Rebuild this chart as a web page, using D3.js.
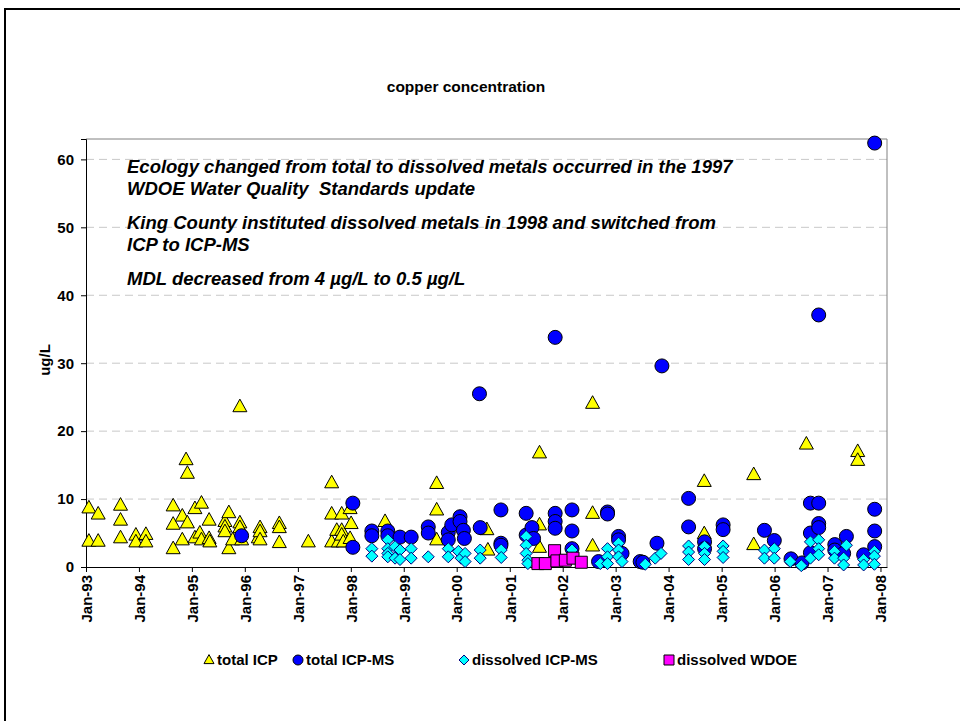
<!DOCTYPE html>
<html>
<head>
<meta charset="utf-8">
<script src="https://cdn.jsdelivr.net/npm/d3@7"></script>
<style>
  body { margin: 0; background: #fff; }
  text { font-family: "Liberation Sans", Arial, sans-serif; }
</style>
</head>
<body>
<div id="chart"></div>
<script>
// values: [sample date, ug/L]
var totalICP = [
  ["1993-01-21", 8.7], ["1993-01-21", 3.8], ["1993-03-26", 7.8], ["1993-03-26", 3.8],
  ["1993-08-27", 9.1], ["1993-08-27", 6.9], ["1993-08-27", 4.3], ["1993-12-11", 4.7],
  ["1993-12-11", 3.7], ["1994-02-18", 4.8], ["1994-02-18", 3.7], ["1994-08-25", 9.0],
  ["1994-08-25", 6.3], ["1994-08-25", 2.7], ["1994-10-27", 7.5], ["1994-10-27", 4.0],
  ["1994-11-22", 15.8], ["1994-12-01", 13.8], ["1994-12-01", 6.5], ["1995-01-22", 8.6],
  ["1995-01-22", 4.3], ["1995-02-25", 5.0], ["1995-03-08", 9.4], ["1995-03-08", 4.0],
  ["1995-04-30", 6.9], ["1995-04-30", 4.2], ["1995-05-05", 3.7], ["1995-08-17", 6.7],
  ["1995-08-17", 5.9], ["1995-08-17", 5.2], ["1995-09-13", 8.0], ["1995-09-13", 2.7],
  ["1995-10-09", 4.0], ["1995-11-28", 23.6], ["1995-11-28", 6.5], ["1995-11-28", 5.8],
  ["1995-12-10", 4.0], ["1996-04-03", 4.3], ["1996-04-15", 5.8], ["1996-04-15", 5.2],
  ["1996-04-15", 4.0], ["1996-08-26", 6.4], ["1996-08-26", 5.8], ["1996-08-26", 3.6],
  ["1997-03-14", 3.7], ["1997-08-22", 12.4], ["1997-08-22", 7.8], ["1997-08-22", 3.7],
  ["1997-09-26", 5.4], ["1997-10-07", 3.7], ["1997-10-30", 7.8], ["1997-10-30", 5.4],
  ["1997-10-30", 4.7], ["1997-11-10", 3.7], ["1997-12-27", 8.6], ["1997-12-27", 4.2],
  ["1998-01-03", 6.4], ["1998-08-25", 6.7], ["1999-08-16", 12.3], ["1999-08-16", 8.4],
  ["1999-08-16", 4.0], ["2000-07-27", 5.5], ["2000-08-03", 2.5], ["2001-07-25", 16.8],
  ["2001-07-25", 6.2], ["2001-07-25", 2.9], ["2002-07-26", 24.1], ["2002-07-26", 7.9],
  ["2002-07-26", 3.1], ["2004-09-03", 12.6], ["2004-09-03", 4.9], ["2005-08-10", 13.6],
  ["2005-08-10", 3.3], ["2006-08-08", 18.1], ["2007-07-28", 17.0], ["2007-07-28", 15.7]
];
var totalICPMS = [
  ["1995-12-10", 4.6], ["1998-01-15", 9.4], ["1998-01-15", 2.9], ["1998-05-26", 5.3],
  ["1998-05-26", 4.6], ["1998-09-13", 5.3], ["1998-09-13", 4.6], ["1998-12-06", 4.4],
  ["1999-02-21", 4.4], ["1999-06-19", 5.9], ["1999-06-19", 5.0], ["1999-11-04", 5.1],
  ["1999-11-04", 4.0], ["1999-11-28", 6.2], ["2000-01-24", 7.4], ["2000-01-24", 6.7],
  ["2000-02-16", 5.4], ["2000-02-23", 4.2], ["2000-06-06", 25.5], ["2000-06-11", 5.8],
  ["2000-11-01", 8.4], ["2000-11-01", 3.5], ["2000-11-01", 3.2], ["2001-04-24", 7.9],
  ["2001-04-24", 4.7], ["2001-06-03", 5.8], ["2001-06-14", 4.2], ["2001-11-10", 33.8],
  ["2001-11-10", 7.9], ["2001-11-10", 6.7], ["2001-11-10", 5.7], ["2002-03-06", 8.4],
  ["2002-03-06", 5.3], ["2002-03-06", 2.7], ["2002-09-05", 0.8], ["2002-11-06", 8.1],
  ["2002-11-06", 7.8], ["2003-01-21", 4.5], ["2003-01-21", 4.0], ["2003-02-14", 2.0],
  ["2003-06-19", 0.8], ["2003-07-08", 0.7], ["2003-10-13", 3.5], ["2003-11-16", 29.6],
  ["2004-05-18", 10.1], ["2004-05-18", 5.9], ["2004-09-05", 3.7], ["2004-09-05", 2.7],
  ["2005-01-11", 6.2], ["2005-01-11", 5.5], ["2005-10-23", 5.4], ["2005-12-30", 3.9],
  ["2006-04-24", 1.2], ["2006-07-09", 0.6], ["2006-09-05", 9.4], ["2006-09-05", 5.0],
  ["2006-09-05", 2.1], ["2006-11-01", 37.1], ["2006-11-01", 9.4], ["2006-11-01", 6.4],
  ["2006-11-01", 5.8], ["2007-02-20", 3.3], ["2007-02-20", 2.5], ["2007-04-22", 2.0],
  ["2007-05-11", 4.5], ["2007-09-07", 1.8], ["2007-11-22", 62.4], ["2007-11-22", 8.5],
  ["2007-11-22", 5.3], ["2007-11-22", 3.0]
];
var dissolvedICPMS = [
  ["1998-05-26", 2.7], ["1998-05-26", 1.6], ["1998-09-13", 4.0], ["1998-09-13", 2.7],
  ["1998-09-13", 2.0], ["1998-09-13", 1.5], ["1998-11-02", 3.0], ["1998-11-02", 1.3],
  ["1998-12-06", 2.5], ["1998-12-06", 1.1], ["1999-02-21", 2.7], ["1999-02-21", 1.3],
  ["1999-06-19", 1.5], ["1999-11-04", 2.7], ["1999-11-04", 1.5], ["2000-01-13", 2.3],
  ["2000-01-31", 1.3], ["2000-02-28", 2.0], ["2000-02-28", 0.8], ["2000-06-11", 2.5],
  ["2000-06-11", 1.3], ["2000-11-03", 2.5], ["2000-11-03", 1.4], ["2001-04-24", 4.5],
  ["2001-04-24", 3.2], ["2001-04-24", 2.0], ["2001-05-06", 1.0], ["2001-05-06", 0.5],
  ["2002-03-06", 2.5], ["2002-03-06", 1.3], ["2002-09-17", 0.5], ["2002-11-06", 2.7],
  ["2002-11-06", 1.5], ["2002-11-06", 0.5], ["2003-01-21", 3.5], ["2003-01-21", 2.5],
  ["2003-01-21", 1.5], ["2003-02-14", 0.8], ["2003-07-24", 0.4], ["2003-10-01", 1.3],
  ["2003-11-10", 2.0], ["2004-05-18", 3.1], ["2004-05-18", 2.2], ["2004-05-18", 1.1],
  ["2004-09-05", 3.0], ["2004-09-05", 2.0], ["2004-09-05", 1.1], ["2005-01-11", 3.1],
  ["2005-01-11", 2.3], ["2005-01-11", 1.4], ["2005-10-23", 2.5], ["2005-10-23", 1.3],
  ["2005-12-30", 2.7], ["2005-12-30", 1.3], ["2006-04-19", 0.8], ["2006-07-04", 0.2],
  ["2006-09-05", 3.7], ["2006-09-05", 1.3], ["2006-11-01", 4.0], ["2006-11-01", 2.7],
  ["2006-11-01", 1.8], ["2007-02-18", 2.3], ["2007-02-18", 1.3], ["2007-04-22", 1.3],
  ["2007-04-22", 0.3], ["2007-05-11", 3.2], ["2007-09-07", 1.1], ["2007-09-07", 0.3],
  ["2007-11-20", 2.3], ["2007-11-20", 1.6], ["2007-11-20", 0.4]
];
var dissolvedWDOE = [
  ["2001-07-14", 0.5], ["2001-09-03", 0.5], ["2001-11-06", 2.4], ["2001-11-22", 0.9],
  ["2002-01-19", 1.0], ["2002-03-13", 1.3], ["2002-05-09", 0.7]
];
var yTicks = [0, 10, 20, 30, 40, 50, 60];
var notes = [
  "Ecology changed from total to dissolved metals occurred in the 1997",
  "WDOE Water Quality  Standards update",
  "King County instituted dissolved metals in 1998 and switched from",
  "ICP to ICP-MS",
  "MDL decreased from 4 \u00b5g/L to 0.5 \u00b5g/L"
];

var width = 960, height = 721;
var plot = { left: 86, right: 887, top: 139, bottom: 567 };

var svg = d3.select("#chart").append("svg")
  .attr("width", width)
  .attr("height", height);

// outer chart frame
svg.append("rect")
  .attr("x", 5).attr("y", 9)
  .attr("width", 970).attr("height", 730)
  .attr("fill", "#fff")
  .attr("stroke", "#000")
  .attr("stroke-width", 2);

var parse = d3.timeParse("%Y-%m-%d");

var x = d3.scaleTime()
  .domain([new Date(1993, 0, 1), new Date(2008, 1, 15)])
  .range([plot.left, plot.right]);

var y = d3.scaleLinear()
  .domain([0, 63])
  .range([plot.bottom, plot.top]);

// title
svg.append("text")
  .attr("x", 466).attr("y", 92)
  .attr("text-anchor", "middle")
  .style("font-size", "15.5px")
  .style("font-weight", "bold")
  .text("copper concentration");

// gridlines
svg.append("g")
  .selectAll("line")
  .data(yTicks.filter(function (d) { return d > 0; }))
  .enter().append("line")
  .attr("x1", plot.left).attr("x2", plot.right)
  .attr("y1", function (d) { return y(d); })
  .attr("y2", function (d) { return y(d); })
  .attr("stroke", "#c8c8c8")
  .attr("stroke-dasharray", "8,5");

// plot area border (top / right)
svg.append("path")
  .attr("d", "M" + plot.left + "," + plot.top + "H" + plot.right + "V" + plot.bottom)
  .attr("fill", "none")
  .attr("stroke", "#808080");

// y axis
var yAxis = svg.append("g")
  .attr("transform", "translate(" + plot.left + ",0)")
  .call(d3.axisLeft(y).tickValues(yTicks).tickSize(5).tickPadding(7));
yAxis.select(".domain").attr("stroke", "#000");
yAxis.selectAll("text")
  .style("font-size", "15px")
  .style("font-weight", "bold")
  .style("font-family", "'Liberation Sans', Arial, sans-serif");

svg.append("text")
  .attr("transform", "translate(50," + 360 + ") rotate(-90)")
  .attr("text-anchor", "middle")
  .style("font-size", "15px")
  .style("font-weight", "bold")
  .text("ug/L");

// x axis
var xAxis = svg.append("g")
  .attr("transform", "translate(0," + plot.bottom + ")")
  .call(d3.axisBottom(x)
    .ticks(d3.timeYear.every(1))
    .tickFormat(d3.timeFormat("%b-%y"))
    .tickSize(5)
    .tickSizeOuter(0));
xAxis.select(".domain").attr("stroke", "#000");
xAxis.selectAll("text")
  .attr("transform", "rotate(-90)")
  .attr("text-anchor", "end")
  .attr("x", -8)
  .attr("y", 0)
  .attr("dy", "0.35em")
  .style("font-size", "15px")
  .style("font-weight", "bold")
  .style("font-family", "'Liberation Sans', Arial, sans-serif");

// annotation text
var noteY = [173, 195, 229, 251, 285];
svg.append("g")
  .selectAll("text")
  .data(notes)
  .enter().append("text")
  .attr("x", 127)
  .attr("y", function (d, i) { return noteY[i]; })
  .style("font-size", "18.5px")
  .style("font-weight", "bold")
  .style("font-style", "italic")
  .style("white-space", "pre")
  .text(function (d) { return d; });

// marker shapes
function triPath(s) {
  var h = s * 0.9;
  return "M0," + (-h * 0.6) + "L" + (s / 2) + "," + (h * 0.4) + "L" + (-s / 2) + "," + (h * 0.4) + "Z";
}
function diamondPath(s) {
  var r = s / 2;
  return "M0," + (-r) + "L" + r + ",0L0," + r + "L" + (-r) + ",0Z";
}
function squarePath(s) {
  var r = s / 2;
  return "M" + (-r) + "," + (-r) + "H" + r + "V" + r + "H" + (-r) + "Z";
}
function circlePath(s) {
  var r = s / 2;
  return "M" + (-r) + ",0A" + r + "," + r + " 0 1,0 " + r + ",0A" + r + "," + r + " 0 1,0 " + (-r) + ",0Z";
}

var series = [
  { name: "total ICP", data: totalICP, shape: triPath, size: 14, fill: "#ffff00", stroke: "#000" },
  { name: "total ICP-MS", data: totalICPMS, shape: circlePath, size: 14, fill: "#0000ff", stroke: "#000" },
  { name: "dissolved ICP-MS", data: dissolvedICPMS, shape: diamondPath, size: 12, fill: "#00ffff", stroke: "#000080" },
  { name: "dissolved WDOE", data: dissolvedWDOE, shape: squarePath, size: 12, fill: "#ff00ff", stroke: "#000" }
];

series.forEach(function (s) {
  svg.append("g")
    .selectAll("path")
    .data(s.data)
    .enter().append("path")
    .attr("d", s.shape(s.size))
    .attr("transform", function (d) {
      return "translate(" + x(parse(d[0])) + "," + y(d[1]) + ")";
    })
    .attr("fill", s.fill)
    .attr("stroke", s.stroke)
    .attr("stroke-width", 1);
});

// legend
var legendX = [209, 298, 464, 669];
var legend = svg.append("g");
series.forEach(function (s, i) {
  legend.append("path")
    .attr("d", s.shape(10))
    .attr("transform", "translate(" + legendX[i] + ",660)")
    .attr("fill", s.fill)
    .attr("stroke", s.stroke);
  legend.append("text")
    .attr("x", legendX[i] + 8)
    .attr("y", 665)
    .style("font-size", "15px")
    .style("font-weight", "bold")
    .text(s.name);
});
</script>
</body>
</html>
